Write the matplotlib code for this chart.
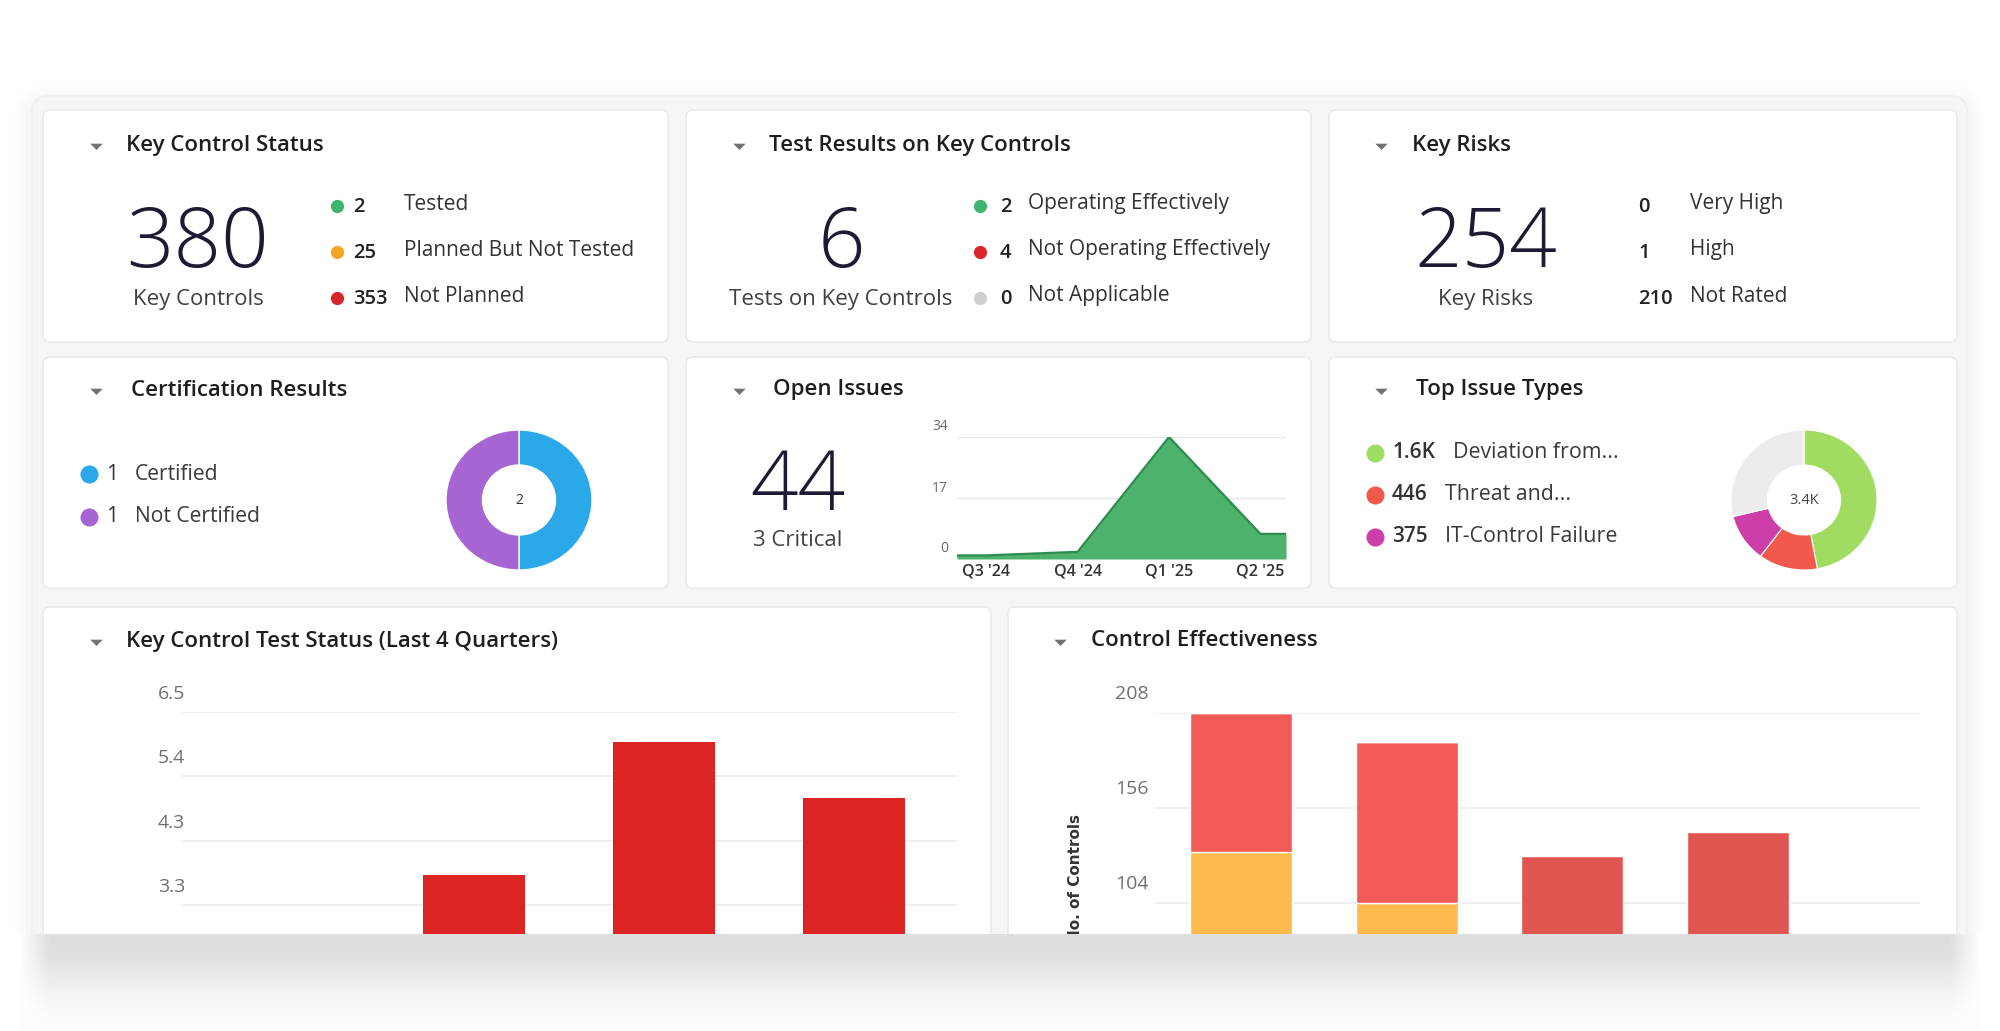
import matplotlib.pyplot as plt
import numpy as np
from matplotlib.patches import FancyBboxPatch
from matplotlib.transforms import ScaledTranslation, blended_transform_factory

plt.rcParams['font.family'] = ['Open Sans', 'DejaVu Sans']

W, H = 2000, 1031
CUT = 934  # the screenshot cuts the dashboard off here

# ---- data ----
kcs_total = 380
kcs_counts = [2, 25, 353]
kcs_labels = ["Tested", "Planned But Not Tested", "Not Planned"]
kcs_colors = ["#3fb46c", "#f4a623", "#d8262b"]

tr_total = 6
tr_counts = [2, 4, 0]
tr_labels = ["Operating Effectively", "Not Operating Effectively", "Not Applicable"]
tr_colors = ["#3fb46c", "#d8262b", "#cfcfcf"]

kr_total = 254
kr_counts = [0, 1, 210]
kr_labels = ["Very High", "High", "Not Rated"]

cert_counts = [1, 1]
cert_labels = ["Certified", "Not Certified"]
cert_colors = ["#2ba8ea", "#a665d3"]

oi_total = 44
oi_critical = 3
oi_quarters = ["Q3 '24", "Q4 '24", "Q1 '25", "Q2 '25"]
oi_values = [1, 2, 34, 7]
oi_ticks = [0, 17, 34]

tit_values = [1600, 446, 375, 979]
tit_shown = ["1.6K", "446", "375"]
tit_labels = ["Deviation from...", "Threat and...", "IT-Control Failure"]
tit_colors = ["#a0dc62", "#f1594c", "#cc3fa9", "#ececec"]

kct_values = [2, 3.75, 6, 5.05]
kct_ticks = [0, 6.5 / 6, 6.5 * 2 / 6, 6.5 * 3 / 6, 6.5 * 4 / 6, 6.5 * 5 / 6, 6.5]
kct_tick_labels = ["0", "1.1", "2.2", "3.3", "4.3", "5.4", "6.5"]

ce_effective = [132, 104, 0, 0]
ce_partial = [76, 88, 0, 0]
ce_not = [0, 0, 130, 143]
ce_ticks = [0, 52, 104, 156, 208]

# ---- figure / helpers ----
fig = plt.figure(figsize=(W / 100, H / 100), dpi=100)
fig.patch.set_facecolor("white")
bg = fig.add_axes([0, 0, 1, 1])
bg.set_xlim(0, W)
bg.set_ylim(H, 0)
bg.set_axis_off()
bg.set_zorder(0)

TRI = [(-1, 0.45), (1, 0.45), (0, -0.55)]


def px_axes(x0, y0, x1, y1, z=2):
    ax = fig.add_axes([x0 / W, 1 - y1 / H, (x1 - x0) / W, (y1 - y0) / H])
    ax.set_zorder(z)
    ax.patch.set_alpha(0)
    return ax


def rbox(x0, y0, x1, y1, r, **kw):
    bg.add_patch(FancyBboxPatch((x0, y0), x1 - x0, y1 - y0,
                                boxstyle=f"round,pad=0,rounding_size={r}", **kw))


def header(tx, x, y, title):
    bg.plot(tx, y + 1, marker=TRI, ms=9, color="#727272", mec="none")
    bg.text(x, y, title, fontsize=16, fontweight="semibold", color="#1e1e1e", va="center")


def ytick_text(ax, ticks, labels, dx, dy, **kw):
    lo = ax.get_ylim()[0]
    tr = blended_transform_factory(ax.transAxes, ax.transData) + \
        ScaledTranslation(dx / 100, dy / 100, fig.dpi_scale_trans)
    for t, lab in zip(ticks, labels):
        if t >= lo - 1e-9:
            ax.text(0, t, lab, transform=tr, ha="right", va="center", clip_on=False, **kw)


def clean(ax):
    ax.tick_params(length=0, labelleft=False, labelbottom=False)
    for s in ax.spines.values():
        s.set_visible(False)


# outer panel + soft shadow
for i in range(10):
    rbox(32 - 2 * i, 96 - 2 * i + 5, 1967 + 2 * i, 1000 + 2 * i, 16 + 2 * i,
         fc="black", ec="none", alpha=0.005)
rbox(32, 96, 1967, 1000, 16, fc="#f4f5f7", ec="#eeeef1", lw=1)

cols = [(43, 668), (686, 1311), (1329, 1957)]
for (x0, x1) in cols:
    rbox(x0, 110, x1, 342, 7, fc="white", ec="#e7e7ec", lw=1)
    rbox(x0, 357, x1, 588, 7, fc="white", ec="#e7e7ec", lw=1)
rbox(43, 607, 991, 1000, 7, fc="white", ec="#e7e7ec", lw=1)
rbox(1008, 607, 1957, 1000, 7, fc="white", ec="#e7e7ec", lw=1)

row_y = [204, 250, 296]


def stat_card(cx, total, sub, counts, labels, colors, dot_x, num_x, lab_x):
    bg.text(cx, 267, str(total), fontsize=60, fontweight="light", color="#1d1b34",
            ha="center", va="baseline")
    bg.text(cx, 299, sub, fontsize=16, color="#404040", ha="center", va="center")
    for i, (n, lab) in enumerate(zip(counts, labels)):
        y = row_y[i]
        if colors is not None:
            bg.plot(dot_x, y + 2, marker="o", ms=9.5, color=colors[i], mec="none")
        bg.text(num_x, y + 3, str(n), fontsize=14.5, fontweight="semibold",
                color="#222222", va="center")
        bg.text(lab_x, y, lab, fontsize=15, color="#333333", va="center")


# row 1
header(96, 126, 145, "Key Control Status")
stat_card(198, kcs_total, "Key Controls", kcs_counts, kcs_labels, kcs_colors, 337, 353, 404)
header(739, 769, 145, "Test Results on Key Controls")
stat_card(841, tr_total, "Tests on Key Controls", tr_counts, tr_labels, tr_colors, 980, 1000, 1028)
header(1381, 1412, 145, "Key Risks")
stat_card(1486, kr_total, "Key Risks", kr_counts, kr_labels, None, 0, 1638, 1690)

# row 2 - certification results
header(96, 131, 390, "Certification Results")
for i, (n, lab) in enumerate(zip(cert_counts, cert_labels)):
    y = [474, 517][i]
    bg.plot(89, y, marker="o", ms=13, color=cert_colors[i], mec="none")
    bg.text(106, y, str(n), fontsize=15, color="#333333", va="center")
    bg.text(135, y, lab, fontsize=15.2, color="#3a3a3a", va="center")
ax = px_axes(519 - 73, 500 - 70, 519 + 73, 500 + 70)
ax.pie(cert_counts, colors=cert_colors, startangle=90, counterclock=False,
       wedgeprops=dict(width=0.5, edgecolor="white", linewidth=1))
ax.set_aspect("auto")
ax.set_xlim(-1, 1)
ax.set_ylim(-1, 1)
ax.text(0, 0, str(sum(cert_counts)), ha="center", va="center", fontsize=10, color="#333333")

# row 2 - open issues
header(739, 773, 390, "Open Issues")
bg.text(798, 510, str(oi_total), fontsize=60, fontweight="light", color="#1d1b34",
        ha="center", va="baseline")
bg.text(798, 541, f"{oi_critical} Critical", fontsize=16, color="#444444",
        ha="center", va="center")
ax = px_axes(957, 437, 1286, 559)
xs = list(range(len(oi_values)))
x_ext = [-0.32] + xs + [3.28]
y_ext = [oi_values[0]] + oi_values + [oi_values[-1]]
ax.fill_between(x_ext, y_ext, 0, color="#4cb26c", lw=0, zorder=2)
ax.plot(x_ext, y_ext, color="#2e8b4d", lw=1.6, zorder=3)
ax.set_yticks(oi_ticks)
ax.set_xlim(-0.32, 3.28)
ax.set_ylim(0, 34)
ax.grid(axis="y", color="#e8e8e8", lw=1, zorder=0)
ax.set_xticks(xs)
ax.set_xticklabels(oi_quarters, fontsize=11.5, color="#333333", fontweight="semibold")
clean(ax)
ax.tick_params(axis="x", labelbottom=True, pad=3)
ytick_text(ax, oi_ticks, [str(t) for t in oi_ticks], -9, 10, fontsize=10, color="#666666")

# row 2 - top issue types
header(1381, 1416, 390, "Top Issue Types")
lab_xs = [1453, 1445, 1445]
for i in range(3):
    y = [453, 495, 537][i]
    bg.plot(1375, y, marker="o", ms=13, color=tit_colors[i], mec="none")
    bg.text(1392, y, tit_shown[i], fontsize=15, fontweight="semibold", color="#333333", va="center")
    bg.text(lab_xs[i], y, tit_labels[i], fontsize=15.4, color="#3a3a3a", va="center")
ax = px_axes(1804 - 73, 500 - 70, 1804 + 73, 500 + 70)
ax.pie(tit_values, colors=tit_colors, startangle=90, counterclock=False,
       wedgeprops=dict(width=0.5, edgecolor="white", linewidth=0.8))
ax.set_aspect("auto")
ax.set_xlim(-1, 1)
ax.set_ylim(-1, 1)
ax.text(0, 0, f"{sum(tit_values) / 1000:.1f}K", ha="center", va="center",
        fontsize=10.5, color="#444444")

# row 3 - key control test status (plot area runs past the screenshot cut)
header(96, 126, 641, "Key Control Test Status (Last 4 Quarters)")
top, px_per = 712, 64.3 / (6.5 / 6)
ax = px_axes(182, top, 957, CUT)
ax.bar(range(len(kct_values)), kct_values, width=0.537, color="#dc2522", zorder=2)
ax.set_yticks(kct_ticks)
ax.set_xlim(-0.537, 3.542)
ax.set_ylim(6.5 - (CUT - top) / px_per, 6.5)
ax.grid(axis="y", color="#ececec", lw=1.2, zorder=0)
clean(ax)
ytick_text(ax, kct_ticks, kct_tick_labels, 3, 18, fontsize=14, color="#707070")

# row 3 - control effectiveness
header(1060, 1091, 641, "Control Effectiveness")
top, px_per = 713, 95.2 / 52
ax = px_axes(1155, top, 1920, CUT)
pos = range(len(ce_effective))
bot2 = [a + b for a, b in zip(ce_effective, ce_partial)]
ax.bar(pos, ce_effective, width=0.615, color="#fdbb4e", edgecolor="white", lw=1, zorder=2)
ax.bar(pos, ce_partial, bottom=ce_effective, width=0.615, color="#f25b55",
       edgecolor="white", lw=1, zorder=2)
ax.bar(pos, ce_not, bottom=bot2, width=0.615, color="#e0554f", edgecolor="white", lw=1, zorder=2)
ax.set_yticks(ce_ticks)
ax.set_xlim(-0.519, 4.098)
ax.set_ylim(208 - (CUT - top) / px_per, 208)
ax.grid(axis="y", color="#ececec", lw=1.2, zorder=0)
clean(ax)
ytick_text(ax, ce_ticks, [str(t) for t in ce_ticks], -6, 19, fontsize=14, color="#707070")
bg.text(1075, 878, "No. of Controls", rotation=90, ha="center", va="center",
        fontsize=11, fontweight="bold", color="#333333", family="DejaVu Sans")

# bottom cut of the screenshot with drop shadow
ov = px_axes(0, CUT, W, H, z=20)
dy = np.arange(H - CUT)[:, None] + 0.5
xx = np.arange(W)[None, :] + 0.5
hmask = np.clip(np.minimum(xx - 20, 1980 - xx) / 30, 0, 1)
shade = 0.13 * np.exp(-((dy - 6) / 52) ** 2) * hmask
img = np.ones((H - CUT, W, 3)) * (1 - shade[..., None])
ov.imshow(img, extent=(0, W, H, CUT), aspect="auto", interpolation="bilinear")
ov.set_xlim(0, W)
ov.set_ylim(H, CUT)
ov.set_axis_off()

fig.savefig("out.png", dpi=100, facecolor="white")
